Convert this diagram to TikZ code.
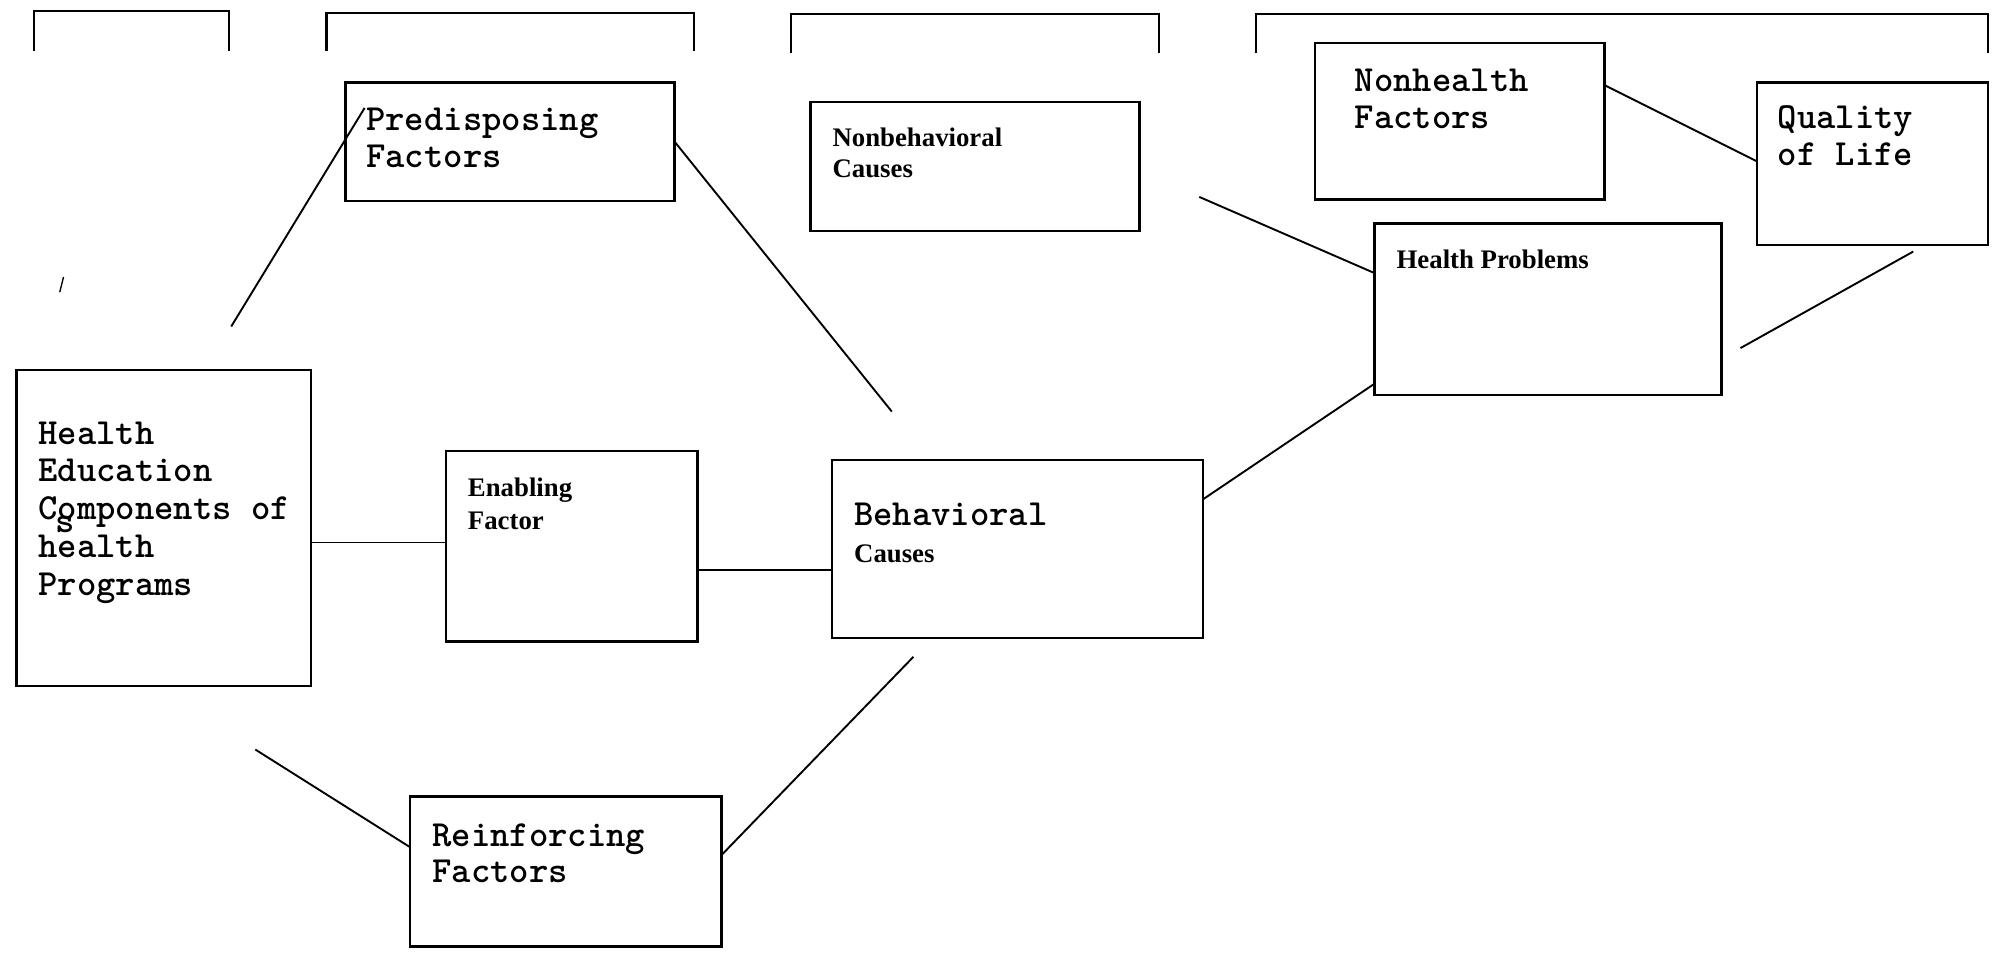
\documentclass[tikz,border=0pt]{standalone}
\usepackage{fontspec}
\newfontfamily\tms{Liberation Serif}
\newfontfamily\cour{lmmonolt10-bold.otf}
\usetikzlibrary{calc}
\newlength\ul \setlength\ul{0.02cm}
\begin{document}
\begin{tikzpicture}[x=0.02cm, y=-0.02cm,
  box/.style={draw, line width=1pt, inner sep=0pt, outer sep=0pt, anchor=north west},
  conn/.style={line width=0.85pt},
  brk/.style={line width=0.9pt},
  ctext/.style={anchor=base west, inner sep=0pt, font=\fontsize{16.5}{18}\selectfont\cour},
  ttext/.style={anchor=base west, inner sep=0pt, font=\fontsize{12}{14.2}\selectfont\tms\bfseries},
]
\useasboundingbox (0,0) rectangle (1568,750);

% top brackets
\draw[brk] (27,40) -- (27,9) -- (180,9) -- (180,40);
\draw[brk] (257,40) -- (257,10) -- (546,10) -- (546,40);
\draw[brk] (623,42) -- (623,11) -- (912,11) -- (912,42);
\draw[brk] (989,42) -- (989,11) -- (1565,11) -- (1565,42);

% boxes
\node[box, minimum width=259\ul, minimum height=93\ul] (pre) at (272,65) {};
\node[box, minimum width=259\ul, minimum height=102\ul] (nb) at (638,80) {};
\node[box, minimum width=228\ul, minimum height=123\ul] (nh) at (1035,34) {};
\node[box, minimum width=182\ul, minimum height=128\ul] (ql) at (1383,65) {};
\node[box, minimum width=273\ul, minimum height=135\ul] (hp) at (1082,176) {};
\node[box, minimum width=232\ul, minimum height=249\ul] (he) at (13,291) {};
\node[box, minimum width=198\ul, minimum height=150\ul] (en) at (351,355) {};
\node[box, minimum width=292\ul, minimum height=140\ul] (beh) at (655,362) {};
\node[box, minimum width=245\ul, minimum height=118\ul] (re) at (323,627) {};

% texts
\node[ctext] (t1) at (288,103) {Predisposing};
\node[ctext] (t2) at (288,132) {Factors};
\node[ttext] (t3) at (655,115) {Nonbehavioral};
\node[ttext] (t4) at (655,140) {Causes};
\node[ctext] (t5) at (1066,72) {Nonhealth};
\node[ctext] (t6) at (1066,101) {Factors};
\node[ctext] (t7) at (1399,101) {Quality};
\node[ctext] (t8) at (1399,130) {of Life};
\node[ttext] (t9) at (1099,211) {Health Problems};
\node[ctext] (t10) at (30,350) {Health};
\node[ctext] (t11) at (30,379) {Education};
\node[ctext] (t12) at (30,409) {Components of};
\node[ctext] (t12s) at (43,419) {s};
\node[ctext] (t13) at (30,439) {health};
\node[ctext] (t14) at (30,469) {Programs};
\node[ttext] (t15) at (368,391) {Enabling};
\node[ttext] (t16) at (368,417) {Factor};
\node[ctext] (t17) at (672,414) {Behavioral};
\node[ttext] (t18) at (672,443) {Causes};
\node[ctext] (t19) at (340,666) {Reinforcing};
\node[ctext] (t20) at (340,695) {Factors};

% free ends
\coordinate (a1) at (182,257);
\coordinate (a2) at (287,85);
\coordinate (b2) at (702,324);
\coordinate (c1) at (944,155);
\coordinate (d1) at (1506,198);
\coordinate (d2) at (1370,274);
\coordinate (e1) at (1030,337);
\coordinate (f1) at (201,590);
\coordinate (g2) at (719,517);
\coordinate (s1) at (47,230);
\coordinate (s2) at (50,218);

% connectors
\draw[conn] (a1) -- (a2);
\draw[conn] (pre.east) -- (b2);
\draw[conn] (c1) -- ($(hp.north west)+(0,39)$);
\draw[conn] ($(nh.north east)+(0,33)$) -- ($(ql.north west)+(0,62)$);
\draw[conn] (d1) -- (d2);
\draw[conn] ($(beh.north east)+(0,31)$) -- (e1) -- ($(hp.south west)+(0,-9)$);
\draw[conn] ($(he.north east)+(0,136)$) -- ($(en.north west)+(0,72)$);
\draw[conn] ($(en.north east)+(0,94)$) -- ($(beh.north west)+(0,87)$);
\draw[conn] (f1) -- ($(re.north west)+(0,40)$);
\draw[conn] ($(re.north east)+(0,46)$) -- (g2);
\draw[line width=0.6pt] (s1) -- (s2);
\end{tikzpicture}
\end{document}
